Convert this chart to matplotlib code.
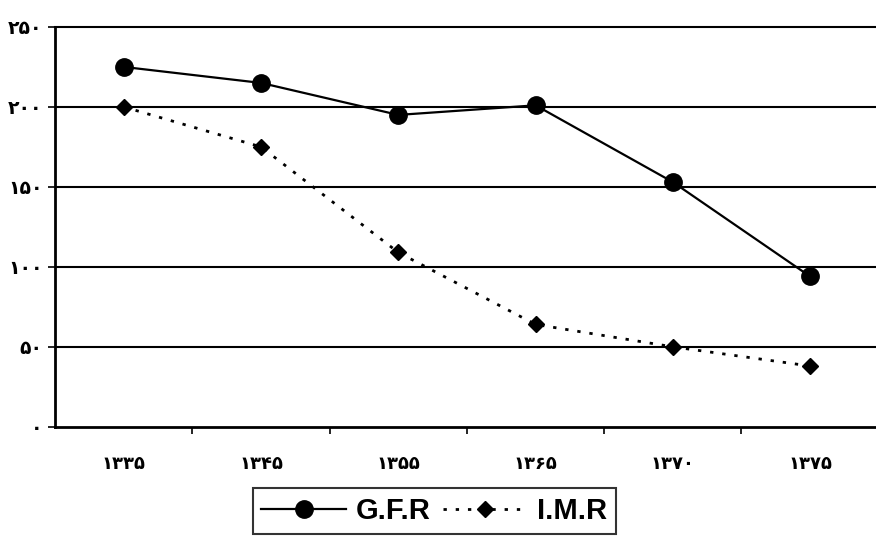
import matplotlib.pyplot as plt
from matplotlib.ticker import FixedLocator

# years (Persian calendar) and series values
years = ["۱۳۳۵", "۱۳۴۵", "۱۳۵۵", "۱۳۶۵", "۱۳۷۰", "۱۳۷۵"]
gfr = [225, 215, 195, 201, 153, 94]
imr = [200, 175, 109, 64, 50, 38]
y_ticks = [0, 50, 100, 150, 200, 250]
y_labels = ["۰", "۵۰", "۱۰۰", "۱۵۰", "۲۰۰", "۲۵۰"]

plt.rcParams['font.family'] = ['DejaVu Sans']

fig = plt.figure(figsize=(8.76, 5.5), dpi=100)
ax = fig.add_axes([0.063, 0.224, 0.937, 0.727])

x = list(range(len(years)))
ax.plot(x, gfr, color="black", linewidth=1.6, marker="o", markersize=12.5,
        label="G.F.R", zorder=3)
ax.plot(x, imr, color="black", linewidth=2, linestyle=(0, (1.2, 3.2)),
        marker="D", markersize=8, label="I.M.R", zorder=3)

ax.set_xlim(-0.5, 5.48)
ax.set_ylim(0, 250)

# horizontal gridlines (top one is the top spine)
for v in y_ticks[1:-1]:
    ax.axhline(v, color="black", linewidth=1.5, zorder=1)

ax.set_yticks(y_ticks)
ax.set_yticklabels(y_labels, fontsize=13.5, fontweight="bold")
ax.set_xticks(x)
ax.set_xticklabels(years, fontsize=13, fontweight="bold")
ax.tick_params(axis="x", length=0, pad=20)
ax.tick_params(axis="y", length=5, width=1.2, direction="out", pad=4)
ax.xaxis.set_minor_locator(FixedLocator([i + 0.5 for i in range(len(years) - 1)]))
ax.tick_params(axis="x", which="minor", length=5, width=1.2, direction="out")

ax.spines["right"].set_visible(False)
ax.spines["top"].set_linewidth(1.5)
ax.spines["left"].set_linewidth(2)
ax.spines["bottom"].set_linewidth(2)

leg = fig.legend(loc="center", bbox_to_anchor=(0.496, 0.071), ncol=2,
                 frameon=True, fancybox=False, handlelength=2.9,
                 columnspacing=0.4, handletextpad=0.35, borderpad=0.3,
                 borderaxespad=0, prop={"family": "Liberation Sans", "weight": "bold", "size": 21})
leg.get_frame().set_edgecolor("black")
leg.get_frame().set_linewidth(1.5)

fig.savefig("out.png", dpi=100)
